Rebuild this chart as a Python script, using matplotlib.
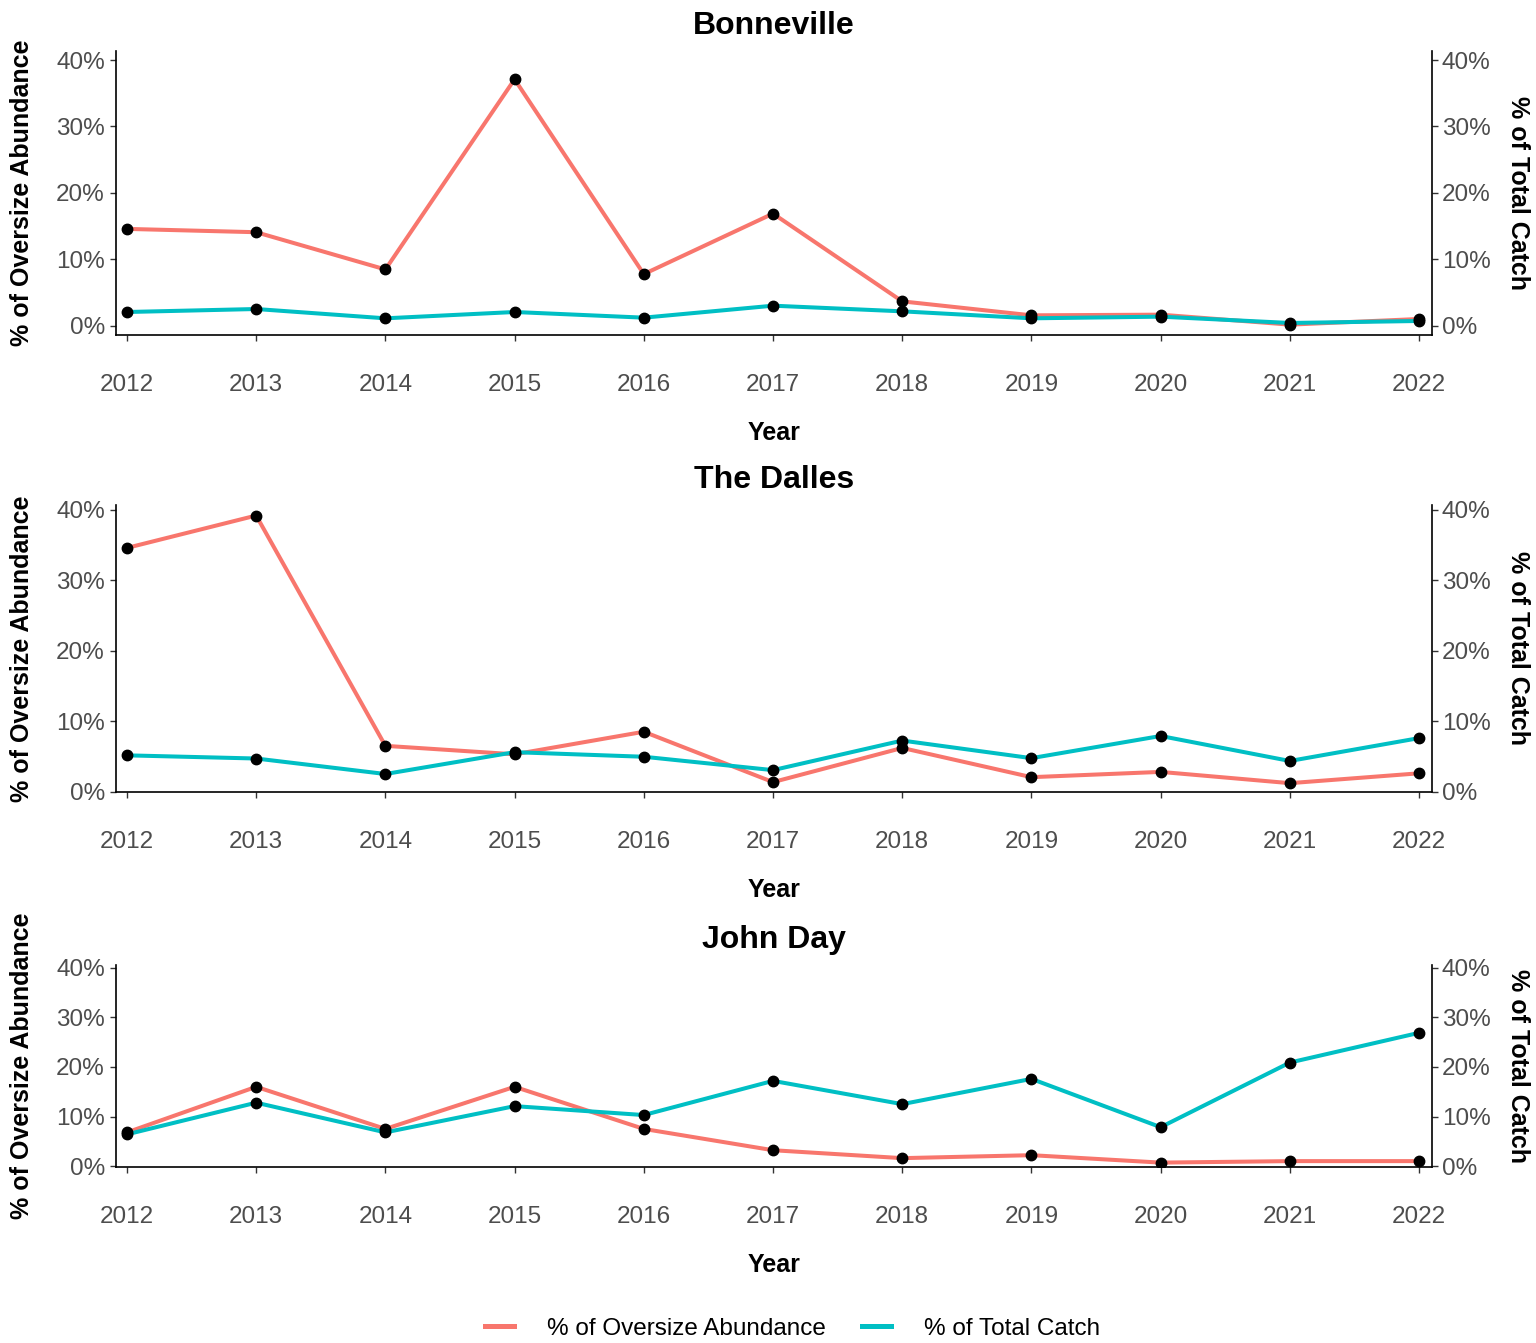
import matplotlib.pyplot as plt
from matplotlib.ticker import StrMethodFormatter
from matplotlib.lines import Line2D

plt.rcParams['font.family'] = ['Liberation Sans', 'DejaVu Sans']

years = list(range(2012, 2023))
sites = ['Bonneville', 'The Dalles', 'John Day']

# percent of oversize abundance / percent of total catch, by site
bon_oversize = [14.6, 14.1, 8.5, 37.1, 7.8, 16.9, 3.7, 1.6, 1.7, 0.2, 1.05]
bon_catch = [2.1, 2.55, 1.15, 2.1, 1.25, 3.05, 2.2, 1.15, 1.4, 0.45, 0.75]

dal_oversize = [34.6, 39.2, 6.5, 5.3, 8.5, 1.35, 6.2, 2.05, 2.8, 1.2, 2.6]
dal_catch = [5.15, 4.7, 2.5, 5.6, 4.95, 3.05, 7.25, 4.75, 7.9, 4.35, 7.6]

jd_oversize = [6.8, 16.0, 7.5, 16.0, 7.5, 3.2, 1.6, 2.2, 0.7, 1.0, 1.0]
jd_catch = [6.4, 12.8, 6.8, 12.1, 10.3, 17.2, 12.5, 17.6, 7.85, 20.9, 26.9]

oversize = [bon_oversize, dal_oversize, jd_oversize]
catch = [bon_catch, dal_catch, jd_catch]

red = '#F8766D'
teal = '#00BFC4'
gray = '#4D4D4D'

# axes boxes [left, bottom, width, height] and y limits
boxes = [[0.0755, 0.7506, 0.8568, 0.2114],
         [0.0755, 0.4103, 0.8568, 0.2137],
         [0.0755, 0.1310, 0.8568, 0.1505]]
ylims = [(-1.35, 41.35), (-0.05, 40.7), (-0.2, 40.6)]

fig = plt.figure(figsize=(15.36, 13.43), dpi=100)

for i in range(3):
    ax = fig.add_axes(boxes[i])
    ax.plot(years, oversize[i], color=red, lw=2.9, zorder=2)
    ax.plot(years, catch[i], color=teal, lw=2.9, zorder=3)
    ax.plot(years, oversize[i], 'o', color='black', ms=7.5, zorder=4)
    ax.plot(years, catch[i], 'o', color='black', ms=7.5, zorder=4)

    ax.set_xlim(2011.915, 2022.1)
    ax.set_ylim(*ylims[i])
    ax.set_xticks(years)
    ax.set_yticks([0, 10, 20, 30, 40])
    ax.yaxis.set_major_formatter(StrMethodFormatter('{x:.0f}%'))

    ax2 = ax.twinx()
    ax2.set_ylim(*ylims[i])
    ax2.set_yticks([0, 10, 20, 30, 40])
    ax2.yaxis.set_major_formatter(StrMethodFormatter('{x:.0f}%'))

    for a in (ax, ax2):
        a.spines['top'].set_visible(False)
        for s in a.spines.values():
            s.set_linewidth(1.2)
            s.set_color('black')
    ax.spines['right'].set_visible(False)
    ax2.spines['left'].set_visible(False)
    ax2.spines['bottom'].set_visible(False)

    ax.tick_params(axis='x', length=4, width=1, color='#333333', labelsize=17.5,
                   labelcolor=gray, pad=24)
    ax.tick_params(axis='y', length=4, width=1, color='#333333', labelsize=17.5,
                   labelcolor=gray, pad=4)
    ax2.tick_params(axis='y', length=4, width=1, color='#333333', labelsize=17.5,
                    labelcolor=gray, pad=3)

    ax.set_title(sites[i], fontsize=23, fontweight='bold', pad=12)
    ax.set_xlabel('Year', fontsize=18, fontweight='bold', labelpad=18)
    ax.set_ylabel('% of Oversize Abundance', fontsize=18, fontweight='bold',
                  va='center', ha='center')
    ax.yaxis.set_label_coords(-0.0714, 0.5)
    ax2.set_ylabel('% of Total Catch', fontsize=18, fontweight='bold', rotation=270,
                   va='center', ha='center')
    ax2.yaxis.set_label_coords(1.0653, 0.5)

handles = [Line2D([], [], color=red, lw=3.6), Line2D([], [], color=teal, lw=3.6)]
fig.legend(handles, ['% of Oversize Abundance', '% of Total Catch'],
           loc='lower center', bbox_to_anchor=(0.516, -0.014), ncol=2, frameon=False,
           fontsize=17.5, handlelength=1.2, handletextpad=1.35, columnspacing=1.5)

fig.savefig('out.png', dpi=100)
